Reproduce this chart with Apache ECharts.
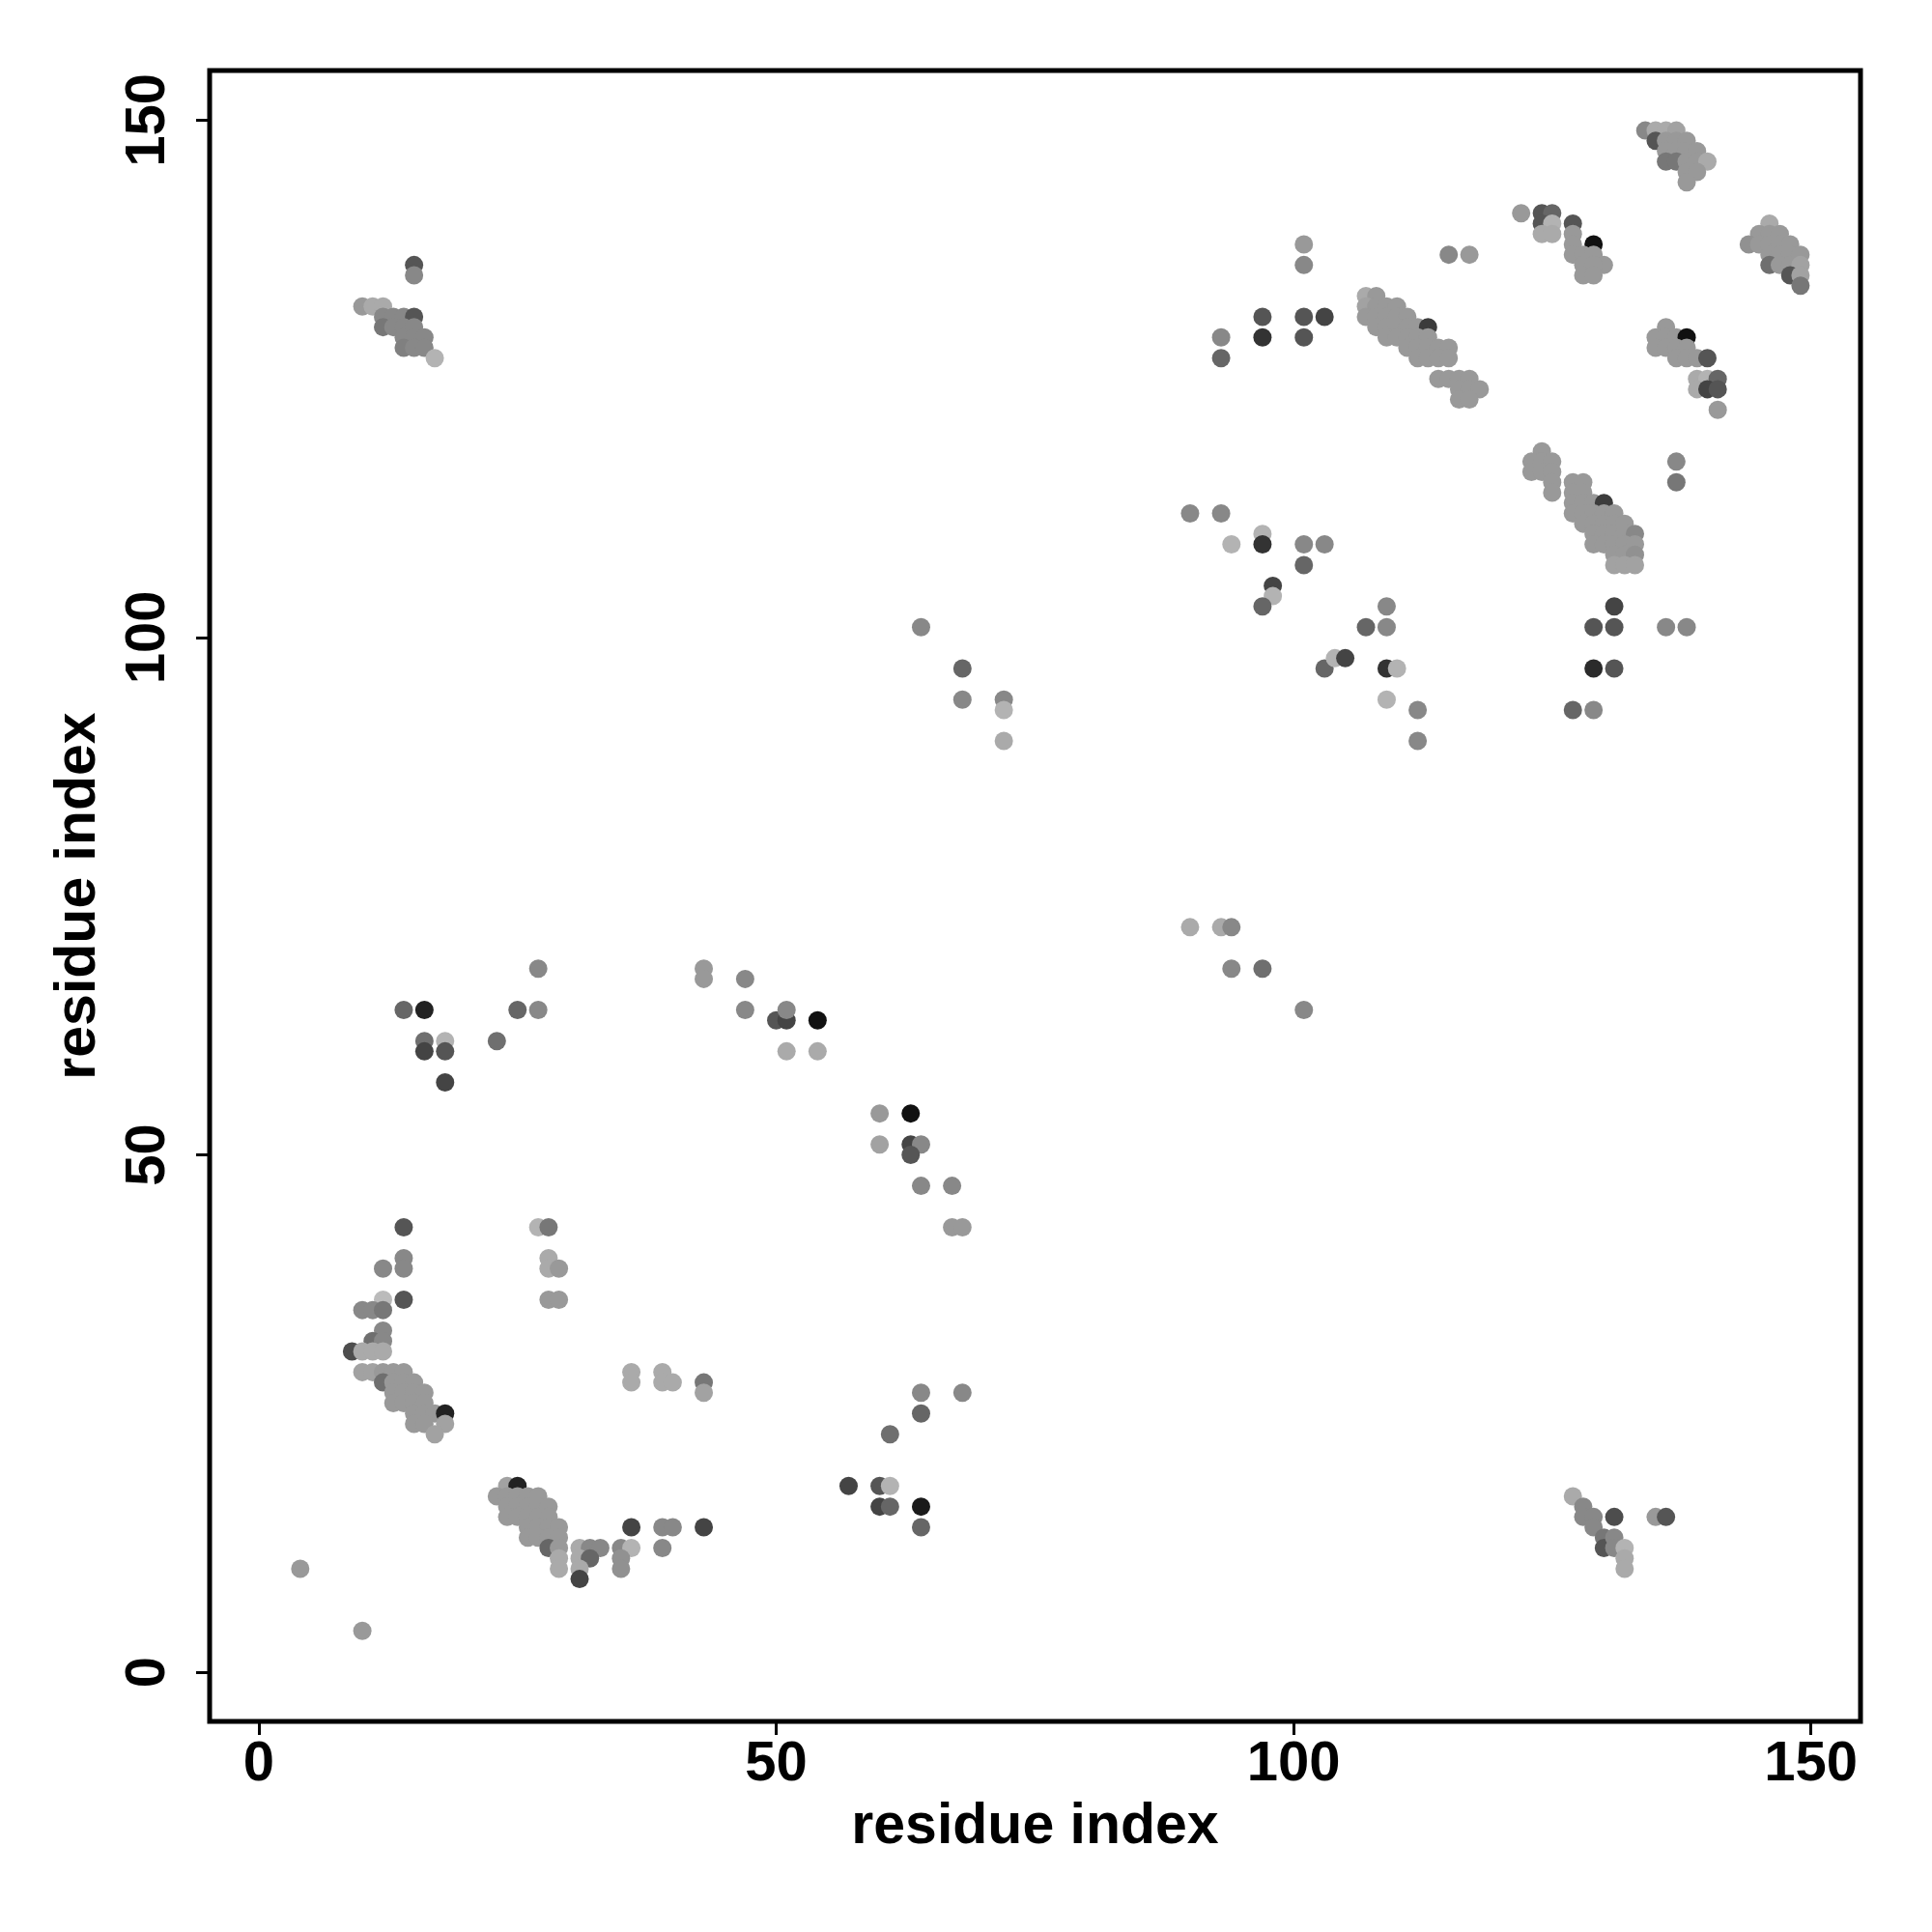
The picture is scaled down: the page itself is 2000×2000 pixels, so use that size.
<!DOCTYPE html>
<html>
<head>
<meta charset="utf-8">
<script src="https://cdn.jsdelivr.net/npm/echarts@6/dist/echarts.min.js"></script>
<style>
html,body{margin:0;padding:0;background:#fff;}
#chart{width:2000px;height:2000px;}
</style>
</head>
<body>
<div id="chart"></div>
<script>
// residue i (x), residue j (y), contact score (0 = light gray, 1 = black)
const resX = [
  4,10,
  14,27,28,14,14,12,28,28,29,12,14,10,11,12,28,29,12,11,12,9,10,11,12,
  10,11,12,13,14,12,13,14,15,13,14,15,16,13,14,15,16,15,16,17,18,15,16,18,17,
  24,25,23,24,25,26,27,24,25,26,27,28,24,25,26,27,28,26,27,28,29,26,27,28,29,
  28,29,31,32,33,35,36,39,29,31,32,35,29,31,35,31,36,39,40,43,
  36,36,39,39,40,43,43,
  14,16,16,16,18,18,18,23,25,27,27,43,43,47,47,50,51,51,54,51,54,
  64,68,64,61,57,60,61,60,61,64,64,
  60,63,60,63,64,63,64,67,67,68,
  64,68,68,72,72,72,
  15,15,10,11,12,12,13,14,15,12,13,14,15,14,15,16,14,15,16,17,
  90,93,94,94,97,101,
  90,93,94,97,97,101,103,101,98,98,97,109,109,107,103,104,105,109,110,109,112,112,
  101,101,115,117,97,97,101,103,101,93,93,
  107,108,107,108,109,110,107,108,109,110,111,108,109,110,111,112,113,109,110,111,112,113,
  111,112,113,114,115,112,113,114,115,114,115,116,117,116,117,118,116,117,
  124,123,124,125,123,124,125,125,125,127,128,127,128,127,128,129,130,127,128,129,130,131,
  128,129,130,131,132,129,130,131,132,133,129,130,131,132,133,131,132,133,131,132,133,
  131,129,131,136,138,129,131,127,129,137,137,
  134,135,136,137,135,136,137,138,136,137,138,139,136,137,138,139,140,138,139,138,
  122,124,125,124,125,124,125,127,127,127,129,127,128,129,130,128,129,128,129,
  146,145,146,147,144,145,146,147,148,146,147,148,149,146,147,148,149,148,149,149,
  136,135,136,137,138,135,136,137,138,137,138,139,140,139,140,141,139,140,141,141,
  127,128,128,129,131,129,130,130,131,131,132,132,132,135,136
];
const resY = [
  10,4,
  43,43,43,40,39,39,40,39,39,36,36,35,35,35,36,36,33,32,32,31,31,31,31,
  29,29,29,29,29,28,28,28,28,27,27,27,27,26,26,26,26,25,25,25,25,24,24,24,23,
  18,18,17,17,17,17,17,16,16,16,16,16,15,15,15,15,15,14,14,14,14,13,13,13,13,
  12,12,12,12,12,12,12,12,11,11,11,11,10,10,10,9,14,14,14,14,
  29,28,29,28,28,28,27,
  64,64,61,60,61,60,57,61,64,64,68,68,67,67,64,63,63,64,63,60,60,
  27,27,25,23,18,18,18,16,16,16,14,
  54,54,51,51,51,50,47,47,43,43,
  101,97,94,94,93,90,
  136,135,132,132,132,131,131,131,131,130,130,130,130,129,129,129,128,128,128,127,
  72,72,72,68,68,64,
  112,112,109,110,109,109,109,107,105,104,103,103,101,101,97,98,98,97,97,94,93,90,
  138,136,137,137,131,129,131,131,129,129,127,
  133,133,132,132,132,132,131,131,131,131,131,130,130,130,130,130,130,129,129,129,129,129,
  128,128,128,128,128,127,127,127,127,125,125,125,125,124,124,124,123,123,
  118,117,117,117,116,116,116,115,114,115,115,114,114,113,113,113,113,112,112,112,112,112,
  111,111,111,111,111,110,110,110,110,110,109,109,109,109,109,108,108,108,107,107,107,
  103,101,101,101,101,97,97,93,93,117,115,
  149,149,149,149,148,148,148,148,147,147,147,147,146,146,146,146,146,145,145,144,
  141,141,141,140,140,139,139,140,139,138,138,137,137,137,136,136,136,135,135,
  140,139,139,139,138,138,138,138,138,137,137,137,137,136,136,136,136,135,135,134,
  130,129,129,129,129,128,128,128,128,127,127,127,127,125,125,125,124,124,124,122,
  17,16,15,15,15,14,13,12,13,12,12,11,10,15,15
];
const score = [
  0.2,0.2,
  0.6,0.05,0.4,0.3,0.3,0.3,0.1,0.1,0.2,0.0,0.6,0.3,0.3,0.4,0.2,0.2,0.3,0.45,0.3,0.65,0.1,0.1,0.1,
  0.15,0.15,0.2,0.2,0.2,0.45,0.2,0.2,0.2,0.2,0.2,0.2,0.2,0.2,0.2,0.2,0.2,0.2,0.2,0.2,0.9,0.2,0.2,0.15,0.15,
  0.15,0.9,0.2,0.2,0.2,0.2,0.2,0.2,0.2,0.2,0.2,0.2,0.2,0.2,0.2,0.2,0.2,0.2,0.2,0.2,0.2,0.2,0.2,0.2,0.2,
  0.5,0.2,0.1,0.3,0.3,0.3,0.05,0.3,0.1,0.1,0.5,0.25,0.1,0.1,0.25,0.7,0.7,0.3,0.3,0.7,
  0.1,0.1,0.1,0.1,0.1,0.4,0.15,
  0.5,0.9,0.45,0.7,0.05,0.6,0.7,0.45,0.5,0.3,0.3,0.2,0.2,0.3,0.3,0.6,0.7,0.3,1.0,0.1,0.1,
  0.3,0.3,0.5,0.45,0.7,0.6,0.05,0.7,0.5,0.95,0.5,
  0.2,1.0,0.15,0.7,0.3,0.6,0.3,0.3,0.2,0.2,
  0.3,0.5,0.3,0.3,0.05,0.1,
  0.6,0.3,0.2,0.1,0.1,0.3,0.3,0.3,0.6,0.4,0.3,0.3,0.3,0.3,0.3,0.3,0.35,0.3,0.3,0.05,
  0.1,0.1,0.3,0.3,0.45,0.3,
  0.3,0.3,0.05,0.05,0.8,0.3,0.3,0.5,0.7,0.05,0.5,0.3,0.3,0.5,0.5,0.05,0.7,0.8,0.05,0.05,0.3,0.3,
  0.2,0.3,0.3,0.2,0.6,0.8,0.6,0.7,0.6,0.3,0.5,
  0.1,0.2,0.15,0.2,0.2,0.2,0.2,0.2,0.2,0.2,0.2,0.2,0.2,0.2,0.2,0.2,0.75,0.2,0.2,0.2,0.2,0.2,
  0.2,0.2,0.2,0.2,0.2,0.2,0.2,0.2,0.2,0.2,0.2,0.2,0.2,0.2,0.2,0.2,0.2,0.2,
  0.2,0.2,0.2,0.2,0.2,0.2,0.2,0.2,0.2,0.2,0.2,0.2,0.2,0.2,0.2,0.2,0.75,0.2,0.2,0.2,0.2,0.2,
  0.2,0.2,0.2,0.2,0.2,0.2,0.2,0.2,0.2,0.3,0.2,0.2,0.2,0.2,0.2,0.2,0.2,0.25,0.15,0.15,0.15,
  0.7,0.6,0.6,0.3,0.3,0.85,0.6,0.5,0.3,0.3,0.4,
  0.3,0.1,0.1,0.15,0.6,0.2,0.2,0.2,0.2,0.2,0.2,0.2,0.4,0.4,0.2,0.2,0.1,0.2,0.2,0.2,
  0.2,0.6,0.5,0.6,0.05,0.1,0.1,0.6,0.2,0.2,1.0,0.2,0.2,0.2,0.2,0.2,0.2,0.2,0.2,
  0.1,0.2,0.2,0.2,0.25,0.2,0.2,0.2,0.2,0.2,0.2,0.2,0.2,0.45,0.2,0.2,0.15,0.6,0.15,0.4,
  0.2,0.2,0.2,0.2,1.0,0.2,0.2,0.2,0.2,0.2,0.2,0.2,0.6,0.1,0.05,0.5,0.1,0.7,0.6,0.2,
  0.1,0.3,0.3,0.3,0.65,0.3,0.4,0.6,0.3,0.3,0.05,0.1,0.1,0.2,0.6
];
const tickValues = [0, 50, 100, 150];
const axisTitle = 'residue index';

const points = resX.map((x, k) => [x, resY[k], score[k]]);
const font = "'Liberation Sans', Arial, Helvetica, sans-serif";

const chart = echarts.init(document.getElementById('chart'), null, {renderer: 'canvas'});
chart.setOption({
  backgroundColor: '#ffffff',
  animation: false,
  grid: {
    left: 217, top: 73, width: 1709, height: 1709,
    show: true, borderColor: '#000', borderWidth: 5, backgroundColor: 'transparent'
  },
  visualMap: {
    show: false, dimension: 2, min: 0, max: 1,
    inRange: {color: ['#bbbbbb', '#111111']}
  },
  xAxis: {
    type: 'value', min: -4.76, max: 154.8,
    name: axisTitle, nameLocation: 'middle', nameGap: 80,
    nameTextStyle: {fontSize: 59, fontWeight: 'bold', color: '#000', fontFamily: font},
    axisLine: {show: false, onZero: false},
    splitLine: {show: false},
    axisTick: {show: true, customValues: tickValues, length: 14, lineStyle: {color: '#000', width: 3}},
    axisLabel: {customValues: tickValues, fontSize: 58, fontWeight: 'bold', color: '#000', fontFamily: font, margin: 16}
  },
  yAxis: {
    type: 'value', min: -4.76, max: 154.8,
    name: axisTitle, nameLocation: 'middle', nameGap: 106, nameRotate: 90,
    nameTextStyle: {fontSize: 59, fontWeight: 'bold', color: '#000', fontFamily: font},
    axisLine: {show: false, onZero: false},
    splitLine: {show: false},
    axisTick: {show: true, customValues: tickValues, length: 14, lineStyle: {color: '#000', width: 3}},
    axisLabel: {customValues: tickValues, rotate: 90, fontSize: 58, fontWeight: 'bold', color: '#000', fontFamily: font, margin: 34}
  },
  series: [{
    type: 'scatter',
    data: points,
    symbol: 'circle',
    symbolSize: 19,
    itemStyle: {opacity: 1},
    emphasis: {disabled: true}
  }]
});
</script>
</body>
</html>
